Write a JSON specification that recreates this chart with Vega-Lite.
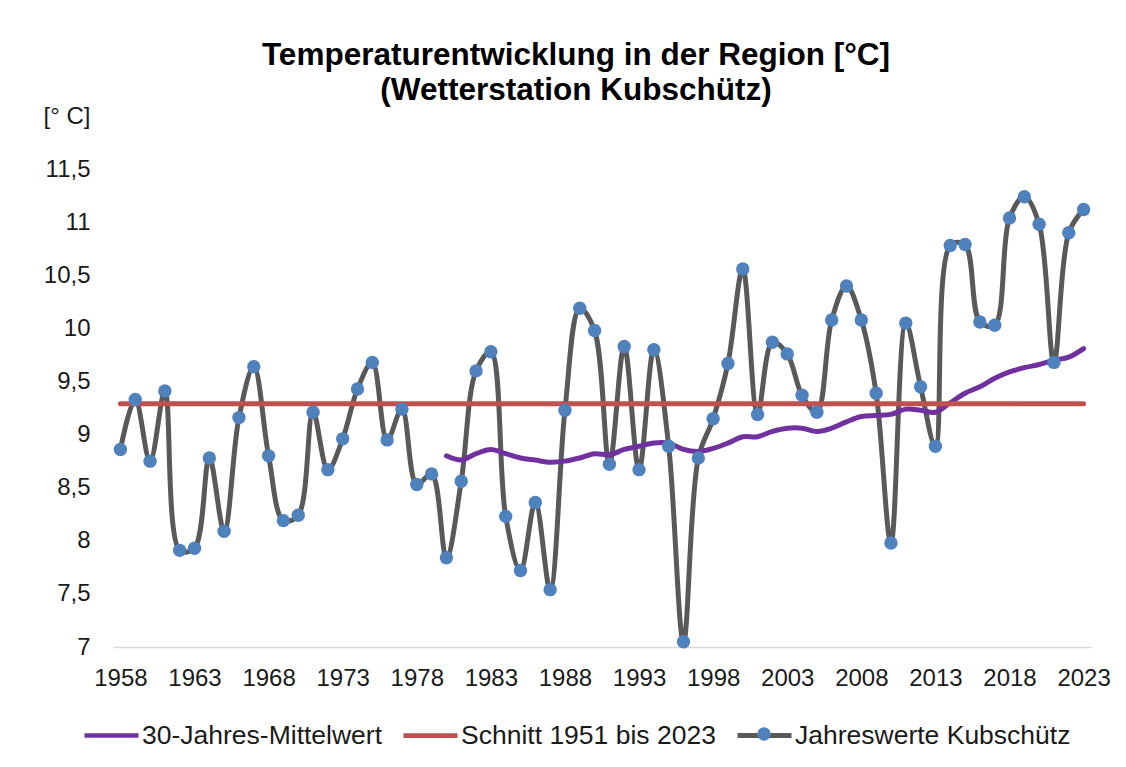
{
  "$schema": "https://vega.github.io/schema/vega-lite/v6.json",
  "autosize": "none",
  "width": 978,
  "height": 531,
  "padding": {"left": 113, "top": 116, "right": 35, "bottom": 120},
  "background": "white",
  "config": {
    "view": {"stroke": null},
    "font": "Liberation Sans"
  },
  "title": {
    "text": ["Temperaturentwicklung  in der Region [°C]", "(Wetterstation Kubschütz)"],
    "font": "Liberation Sans",
    "fontSize": 31.5,
    "fontWeight": "bold",
    "color": "#000000",
    "anchor": "middle",
    "frame": "group",
    "dx": -26,
    "dy": 38,
    "baseline": "bottom",
    "lineHeight": 35,
    "offset": 4
  },
  "data": {
    "values": [
      {"year": 1958, "value": 8.86, "series": "Jahreswerte Kubschütz"},
      {"year": 1959, "value": 9.33, "series": "Jahreswerte Kubschütz"},
      {"year": 1960, "value": 8.75, "series": "Jahreswerte Kubschütz"},
      {"year": 1961, "value": 9.41, "series": "Jahreswerte Kubschütz"},
      {"year": 1962, "value": 7.91, "series": "Jahreswerte Kubschütz"},
      {"year": 1963, "value": 7.93, "series": "Jahreswerte Kubschütz"},
      {"year": 1964, "value": 8.78, "series": "Jahreswerte Kubschütz"},
      {"year": 1965, "value": 8.09, "series": "Jahreswerte Kubschütz"},
      {"year": 1966, "value": 9.16, "series": "Jahreswerte Kubschütz"},
      {"year": 1967, "value": 9.64, "series": "Jahreswerte Kubschütz"},
      {"year": 1968, "value": 8.80, "series": "Jahreswerte Kubschütz"},
      {"year": 1969, "value": 8.19, "series": "Jahreswerte Kubschütz"},
      {"year": 1970, "value": 8.24, "series": "Jahreswerte Kubschütz"},
      {"year": 1971, "value": 9.21, "series": "Jahreswerte Kubschütz"},
      {"year": 1972, "value": 8.67, "series": "Jahreswerte Kubschütz"},
      {"year": 1973, "value": 8.96, "series": "Jahreswerte Kubschütz"},
      {"year": 1974, "value": 9.43, "series": "Jahreswerte Kubschütz"},
      {"year": 1975, "value": 9.68, "series": "Jahreswerte Kubschütz"},
      {"year": 1976, "value": 8.95, "series": "Jahreswerte Kubschütz"},
      {"year": 1977, "value": 9.24, "series": "Jahreswerte Kubschütz"},
      {"year": 1978, "value": 8.53, "series": "Jahreswerte Kubschütz"},
      {"year": 1979, "value": 8.63, "series": "Jahreswerte Kubschütz"},
      {"year": 1980, "value": 7.84, "series": "Jahreswerte Kubschütz"},
      {"year": 1981, "value": 8.56, "series": "Jahreswerte Kubschütz"},
      {"year": 1982, "value": 9.60, "series": "Jahreswerte Kubschütz"},
      {"year": 1983, "value": 9.78, "series": "Jahreswerte Kubschütz"},
      {"year": 1984, "value": 8.23, "series": "Jahreswerte Kubschütz"},
      {"year": 1985, "value": 7.72, "series": "Jahreswerte Kubschütz"},
      {"year": 1986, "value": 8.36, "series": "Jahreswerte Kubschütz"},
      {"year": 1987, "value": 7.54, "series": "Jahreswerte Kubschütz"},
      {"year": 1988, "value": 9.23, "series": "Jahreswerte Kubschütz"},
      {"year": 1989, "value": 10.19, "series": "Jahreswerte Kubschütz"},
      {"year": 1990, "value": 9.98, "series": "Jahreswerte Kubschütz"},
      {"year": 1991, "value": 8.72, "series": "Jahreswerte Kubschütz"},
      {"year": 1992, "value": 9.83, "series": "Jahreswerte Kubschütz"},
      {"year": 1993, "value": 8.67, "series": "Jahreswerte Kubschütz"},
      {"year": 1994, "value": 9.80, "series": "Jahreswerte Kubschütz"},
      {"year": 1995, "value": 8.89, "series": "Jahreswerte Kubschütz"},
      {"year": 1996, "value": 7.05, "series": "Jahreswerte Kubschütz"},
      {"year": 1997, "value": 8.78, "series": "Jahreswerte Kubschütz"},
      {"year": 1998, "value": 9.15, "series": "Jahreswerte Kubschütz"},
      {"year": 1999, "value": 9.67, "series": "Jahreswerte Kubschütz"},
      {"year": 2000, "value": 10.56, "series": "Jahreswerte Kubschütz"},
      {"year": 2001, "value": 9.19, "series": "Jahreswerte Kubschütz"},
      {"year": 2002, "value": 9.87, "series": "Jahreswerte Kubschütz"},
      {"year": 2003, "value": 9.76, "series": "Jahreswerte Kubschütz"},
      {"year": 2004, "value": 9.37, "series": "Jahreswerte Kubschütz"},
      {"year": 2005, "value": 9.21, "series": "Jahreswerte Kubschütz"},
      {"year": 2006, "value": 10.08, "series": "Jahreswerte Kubschütz"},
      {"year": 2007, "value": 10.40, "series": "Jahreswerte Kubschütz"},
      {"year": 2008, "value": 10.08, "series": "Jahreswerte Kubschütz"},
      {"year": 2009, "value": 9.39, "series": "Jahreswerte Kubschütz"},
      {"year": 2010, "value": 7.98, "series": "Jahreswerte Kubschütz"},
      {"year": 2011, "value": 10.05, "series": "Jahreswerte Kubschütz"},
      {"year": 2012, "value": 9.45, "series": "Jahreswerte Kubschütz"},
      {"year": 2013, "value": 8.89, "series": "Jahreswerte Kubschütz"},
      {"year": 2014, "value": 10.78, "series": "Jahreswerte Kubschütz"},
      {"year": 2015, "value": 10.79, "series": "Jahreswerte Kubschütz"},
      {"year": 2016, "value": 10.06, "series": "Jahreswerte Kubschütz"},
      {"year": 2017, "value": 10.03, "series": "Jahreswerte Kubschütz"},
      {"year": 2018, "value": 11.04, "series": "Jahreswerte Kubschütz"},
      {"year": 2019, "value": 11.24, "series": "Jahreswerte Kubschütz"},
      {"year": 2020, "value": 10.98, "series": "Jahreswerte Kubschütz"},
      {"year": 2021, "value": 9.68, "series": "Jahreswerte Kubschütz"},
      {"year": 2022, "value": 10.90, "series": "Jahreswerte Kubschütz"},
      {"year": 2023, "value": 11.12, "series": "Jahreswerte Kubschütz"},
      {"year": 1980, "value": 8.80, "series": "30-Jahres-Mittelwert"},
      {"year": 1981, "value": 8.76, "series": "30-Jahres-Mittelwert"},
      {"year": 1982, "value": 8.82, "series": "30-Jahres-Mittelwert"},
      {"year": 1983, "value": 8.86, "series": "30-Jahres-Mittelwert"},
      {"year": 1984, "value": 8.82, "series": "30-Jahres-Mittelwert"},
      {"year": 1985, "value": 8.78, "series": "30-Jahres-Mittelwert"},
      {"year": 1986, "value": 8.76, "series": "30-Jahres-Mittelwert"},
      {"year": 1987, "value": 8.74, "series": "30-Jahres-Mittelwert"},
      {"year": 1988, "value": 8.75, "series": "30-Jahres-Mittelwert"},
      {"year": 1989, "value": 8.78, "series": "30-Jahres-Mittelwert"},
      {"year": 1990, "value": 8.82, "series": "30-Jahres-Mittelwert"},
      {"year": 1991, "value": 8.81, "series": "30-Jahres-Mittelwert"},
      {"year": 1992, "value": 8.86, "series": "30-Jahres-Mittelwert"},
      {"year": 1993, "value": 8.89, "series": "30-Jahres-Mittelwert"},
      {"year": 1994, "value": 8.92, "series": "30-Jahres-Mittelwert"},
      {"year": 1995, "value": 8.92, "series": "30-Jahres-Mittelwert"},
      {"year": 1996, "value": 8.86, "series": "30-Jahres-Mittelwert"},
      {"year": 1997, "value": 8.84, "series": "30-Jahres-Mittelwert"},
      {"year": 1998, "value": 8.87, "series": "30-Jahres-Mittelwert"},
      {"year": 1999, "value": 8.92, "series": "30-Jahres-Mittelwert"},
      {"year": 2000, "value": 8.98, "series": "30-Jahres-Mittelwert"},
      {"year": 2001, "value": 8.98, "series": "30-Jahres-Mittelwert"},
      {"year": 2002, "value": 9.03, "series": "30-Jahres-Mittelwert"},
      {"year": 2003, "value": 9.06, "series": "30-Jahres-Mittelwert"},
      {"year": 2004, "value": 9.06, "series": "30-Jahres-Mittelwert"},
      {"year": 2005, "value": 9.03, "series": "30-Jahres-Mittelwert"},
      {"year": 2006, "value": 9.06, "series": "30-Jahres-Mittelwert"},
      {"year": 2007, "value": 9.12, "series": "30-Jahres-Mittelwert"},
      {"year": 2008, "value": 9.17, "series": "30-Jahres-Mittelwert"},
      {"year": 2009, "value": 9.18, "series": "30-Jahres-Mittelwert"},
      {"year": 2010, "value": 9.19, "series": "30-Jahres-Mittelwert"},
      {"year": 2011, "value": 9.24, "series": "30-Jahres-Mittelwert"},
      {"year": 2012, "value": 9.23, "series": "30-Jahres-Mittelwert"},
      {"year": 2013, "value": 9.21, "series": "30-Jahres-Mittelwert"},
      {"year": 2014, "value": 9.30, "series": "30-Jahres-Mittelwert"},
      {"year": 2015, "value": 9.39, "series": "30-Jahres-Mittelwert"},
      {"year": 2016, "value": 9.45, "series": "30-Jahres-Mittelwert"},
      {"year": 2017, "value": 9.53, "series": "30-Jahres-Mittelwert"},
      {"year": 2018, "value": 9.59, "series": "30-Jahres-Mittelwert"},
      {"year": 2019, "value": 9.63, "series": "30-Jahres-Mittelwert"},
      {"year": 2020, "value": 9.66, "series": "30-Jahres-Mittelwert"},
      {"year": 2021, "value": 9.70, "series": "30-Jahres-Mittelwert"},
      {"year": 2022, "value": 9.73, "series": "30-Jahres-Mittelwert"},
      {"year": 2023, "value": 9.81, "series": "30-Jahres-Mittelwert"},
      {"year": 1958, "value": 9.29, "series": "Schnitt 1951 bis 2023"},
      {"year": 2023, "value": 9.29, "series": "Schnitt 1951 bis 2023"}
    ]
  },
  "encoding": {
    "x": {
      "field": "year",
      "type": "quantitative",
      "scale": {"domain": [1957.5, 2023.5], "nice": false, "zero": false},
      "axis": {
        "title": null,
        "values": [1958, 1963, 1968, 1973, 1978, 1983, 1988, 1993, 1998, 2003, 2008, 2013, 2018, 2023],
        "format": "d",
        "grid": false,
        "ticks": false,
        "tickSize": 0,
        "domain": true,
        "domainColor": "#d9d9d9",
        "domainWidth": 1.5,
        "labelFont": "Liberation Sans",
        "labelFontSize": 24,
        "labelColor": "#1a1a1a",
        "labelPadding": 19,
        "labelFlush": false,
        "labelOverlap": false
      }
    },
    "y": {
      "field": "value",
      "type": "quantitative",
      "scale": {"domain": [7, 12], "nice": false, "zero": false},
      "axis": {
        "title": null,
        "values": [7, 7.5, 8, 8.5, 9, 9.5, 10, 10.5, 11, 11.5, 12],
        "labelExpr": "datum.value == 12 ? '[° C]' : replace(toString(datum.value), '.', ',')",
        "grid": false,
        "ticks": false,
        "tickSize": 0,
        "domain": false,
        "labelFont": "Liberation Sans",
        "labelFontSize": 24,
        "labelColor": "#1a1a1a",
        "labelPadding": 23,
        "labelAlign": "right",
        "labelBaseline": "middle"
      }
    }
  },
  "layer": [
    {
      "mark": {"type": "line", "interpolate": "catmull-rom", "strokeWidth": 5, "strokeCap": "round"},
      "encoding": {
        "color": {
          "field": "series",
          "type": "nominal",
          "scale": {
            "domain": ["30-Jahres-Mittelwert", "Schnitt 1951 bis 2023", "Jahreswerte Kubschütz"],
            "range": ["#7030a0", "#c0504d", "#595959"]
          },
          "legend": {
            "title": null,
            "orient": "none",
            "legendX": -31,
            "legendY": 590,
            "direction": "horizontal",
            "columns": 3,
            "symbolType": "stroke",
            "symbolSize": 2916,
            "symbolStrokeWidth": 5,
            "labelFont": "Liberation Sans",
            "labelFontSize": 26.5,
            "labelColor": "#1a1a1a",
            "labelOffset": 1,
            "columnPadding": 11,
            "padding": 0,
            "symbolOffset": 0,
            "labelLimit": 400
          }
        },
        "strokeWidth": {
          "field": "series",
          "type": "nominal",
          "scale": {
            "domain": ["30-Jahres-Mittelwert", "Schnitt 1951 bis 2023", "Jahreswerte Kubschütz"],
            "range": [4.5, 5, 6]
          },
          "legend": null
        },
        "order": {"field": "year", "type": "quantitative"}
      }
    },
    {
      "transform": [{"filter": "datum.series == 'Jahreswerte Kubschütz'"}],
      "mark": {"type": "point", "filled": true, "size": 180, "opacity": 1, "color": "#4f81bd", "strokeWidth": 0},
      "encoding": {
        "shape": {
          "field": "series",
          "type": "nominal",
          "scale": {"range": ["circle"]},
          "legend": {
            "title": null,
            "orient": "none",
            "legendX": 644,
            "legendY": 611,
            "symbolSize": 180,
            "symbolFillColor": "#4f81bd",
            "symbolStrokeWidth": 0,
            "labelOpacity": 0,
            "labelFontSize": 1,
            "padding": 0,
            "symbolOffset": 0
          }
        }
      }
    }
  ]
}
